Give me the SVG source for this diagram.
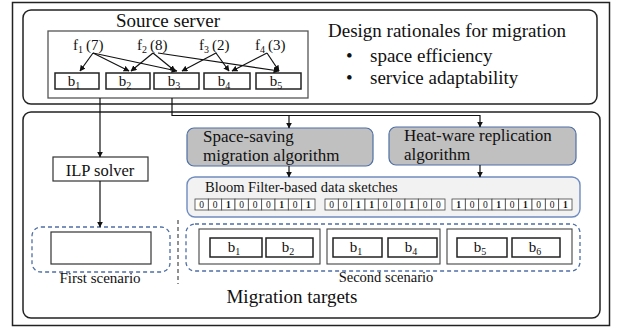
<svg xmlns="http://www.w3.org/2000/svg" width="618" height="331" viewBox="0 0 618 331" font-family="'Liberation Serif', 'DejaVu Serif', 'Times New Roman', serif">
<style>
text{font-family:'Liberation Serif','DejaVu Serif','Times New Roman',serif;fill:#111}
.ln{stroke:#111;stroke-width:1.2;fill:none}
.bx{fill:#fff;stroke:#222;stroke-width:1.5}
.grp{fill:#fff;stroke:#444;stroke-width:1.1}
.gray{fill:#c0c0c0;stroke:#4f6fa5;stroke-width:1.2}
.bloom{fill:#f2f2f2;stroke:#6f8cc0;stroke-width:1.4}
.dash{fill:none;stroke:#4f6fa5;stroke-width:1.3;stroke-dasharray:4 3}
.cell{fill:#fff;stroke:#444;stroke-width:0.8}
.bit{font-size:9.5px;text-anchor:middle}
.b1{font-weight:bold}
.bl{font-size:15px;text-anchor:middle}
.fl{font-size:15px}
</style>
<defs>
<marker id="ah" viewBox="0 0 10 10" refX="9" refY="5" markerWidth="6" markerHeight="6" orient="auto" markerUnits="userSpaceOnUse">
<path d="M0,0 L10,5 L0,10 z" fill="#111"/>
</marker>
</defs>
<rect x="12.5" y="2.5" width="597" height="323" fill="#fff" stroke="#222" stroke-width="1.5"/>

<g id="source">
<rect x="23" y="10" width="574" height="94" rx="8" fill="#fff" stroke="#222" stroke-width="1.5"/>
<text x="168" y="27" font-size="19" text-anchor="middle">Source server</text>
<rect x="48" y="31" width="260" height="67" fill="#fff" stroke="#555" stroke-width="1.3"/>
<text class="fl" x="73" y="50">f<tspan font-size="10" dy="3">1</tspan><tspan dy="-3" dx="3">(7)</tspan></text>
<text class="fl" x="137" y="50">f<tspan font-size="10" dy="3">2</tspan><tspan dy="-3" dx="3">(8)</tspan></text>
<text class="fl" x="199" y="50">f<tspan font-size="10" dy="3">3</tspan><tspan dy="-3" dx="3">(2)</tspan></text>
<text class="fl" x="255" y="50">f<tspan font-size="10" dy="3">4</tspan><tspan dy="-3" dx="3">(3)</tspan></text>
<rect class="bx" x="55" y="73" width="44" height="16"/>
<rect class="bx" x="106" y="73" width="44" height="16"/>
<rect class="bx" x="154" y="73" width="45" height="16"/>
<rect class="bx" x="204" y="73" width="46" height="16"/>
<rect class="bx" x="256" y="73" width="45" height="16"/>
<text class="bl" x="74" y="86">b<tspan font-size="10" dy="3">1</tspan></text>
<text class="bl" x="125" y="86">b<tspan font-size="10" dy="3">2</tspan></text>
<text class="bl" x="174" y="86">b<tspan font-size="10" dy="3">3</tspan></text>
<text class="bl" x="224" y="86">b<tspan font-size="10" dy="3">4</tspan></text>
<text class="bl" x="276" y="86">b<tspan font-size="10" dy="3">5</tspan></text>
</g>

<g id="rationales">
<text x="328" y="37" font-size="19">Design rationales for migration</text>
<text x="346" y="62" font-size="19">•</text>
<text x="370" y="62" font-size="19">space efficiency</text>
<text x="346" y="84" font-size="19">•</text>
<text x="370" y="84" font-size="19">service adaptability</text>
</g>

<g id="targets">
<rect x="23" y="112" width="577" height="206" rx="8" fill="#fff" stroke="#222" stroke-width="1.5"/>
<text x="292" y="303" font-size="19" text-anchor="middle">Migration targets</text>
</g>

<g id="ilp">
<rect x="53" y="157" width="95" height="24" fill="#fff" stroke="#333" stroke-width="1.2"/>
<text x="100" y="176" font-size="16.5" text-anchor="middle">ILP solver</text>
</g>

<g id="space-saving">
<rect class="gray" x="187" y="128" width="186" height="38" rx="7"/>
<text x="203" y="142" font-size="17">Space-saving</text>
<text x="203" y="161" font-size="17">migration algorithm</text>
</g>

<g id="heat-ware">
<rect class="gray" x="389" y="127" width="187" height="38" rx="7"/>
<text x="404" y="141" font-size="17">Heat-ware replication</text>
<text x="404" y="160" font-size="17">algorithm</text>
</g>

<g id="bloom">
<rect class="bloom" x="187" y="177" width="393" height="40" rx="8"/>
<text x="205" y="192" font-size="14.5">Bloom Filter-based data sketches</text>
<g id="bits1">
<rect class="cell" x="195" y="199" width="13.33" height="11"/><rect class="cell" x="208.33" y="199" width="13.33" height="11"/><rect class="cell" x="221.67" y="199" width="13.33" height="11"/><rect class="cell" x="235" y="199" width="13.33" height="11"/><rect class="cell" x="248.33" y="199" width="13.33" height="11"/><rect class="cell" x="261.67" y="199" width="13.33" height="11"/><rect class="cell" x="275" y="199" width="13.33" height="11"/><rect class="cell" x="288.33" y="199" width="13.33" height="11"/><rect class="cell" x="301.67" y="199" width="13.33" height="11"/>
<text class="bit" x="201.7" y="208">0</text><text class="bit" x="215" y="208">0</text><text class="bit b1" x="228.3" y="208">1</text><text class="bit" x="241.7" y="208">0</text><text class="bit" x="255" y="208">0</text><text class="bit" x="268.3" y="208">0</text><text class="bit b1" x="281.7" y="208">1</text><text class="bit" x="295" y="208">0</text><text class="bit b1" x="308.3" y="208">1</text>
</g>
<g id="bits2">
<rect class="cell" x="325" y="199" width="13.33" height="11"/><rect class="cell" x="338.33" y="199" width="13.33" height="11"/><rect class="cell" x="351.67" y="199" width="13.33" height="11"/><rect class="cell" x="365" y="199" width="13.33" height="11"/><rect class="cell" x="378.33" y="199" width="13.33" height="11"/><rect class="cell" x="391.67" y="199" width="13.33" height="11"/><rect class="cell" x="405" y="199" width="13.33" height="11"/><rect class="cell" x="418.33" y="199" width="13.33" height="11"/><rect class="cell" x="431.67" y="199" width="13.33" height="11"/>
<text class="bit" x="331.7" y="208">0</text><text class="bit" x="345" y="208">0</text><text class="bit b1" x="358.3" y="208">1</text><text class="bit b1" x="371.7" y="208">1</text><text class="bit" x="385" y="208">0</text><text class="bit" x="398.3" y="208">0</text><text class="bit b1" x="411.7" y="208">1</text><text class="bit" x="425" y="208">0</text><text class="bit" x="438.3" y="208">0</text>
</g>
<g id="bits3">
<rect class="cell" x="452" y="199" width="13.33" height="11"/><rect class="cell" x="465.33" y="199" width="13.33" height="11"/><rect class="cell" x="478.67" y="199" width="13.33" height="11"/><rect class="cell" x="492" y="199" width="13.33" height="11"/><rect class="cell" x="505.33" y="199" width="13.33" height="11"/><rect class="cell" x="518.67" y="199" width="13.33" height="11"/><rect class="cell" x="532" y="199" width="13.33" height="11"/><rect class="cell" x="545.33" y="199" width="13.33" height="11"/><rect class="cell" x="558.67" y="199" width="13.33" height="11"/>
<text class="bit b1" x="458.7" y="208">1</text><text class="bit" x="472" y="208">0</text><text class="bit" x="485.3" y="208">0</text><text class="bit b1" x="498.7" y="208">1</text><text class="bit" x="512" y="208">0</text><text class="bit b1" x="525.3" y="208">1</text><text class="bit" x="538.7" y="208">0</text><text class="bit" x="552" y="208">0</text><text class="bit b1" x="565.3" y="208">1</text>
</g>
</g>

<g id="first-scenario">
<rect class="dash" x="32" y="227" width="138" height="45" rx="9"/>
<rect x="51" y="232" width="100" height="32" fill="#fff" stroke="#333" stroke-width="1.2"/>
<text x="100" y="283" font-size="15" text-anchor="middle">First scenario</text>
</g>

<line x1="178" y1="220" x2="178" y2="284" stroke="#222" stroke-width="1" stroke-dasharray="4 3"/>

<g id="second-scenario">
<rect class="dash" x="186" y="224" width="394" height="47" rx="9"/>
<rect class="grp" x="199" y="229" width="121" height="35"/>
<rect class="grp" x="327" y="229" width="113" height="35"/>
<rect class="grp" x="447" y="229" width="125" height="35"/>
<rect class="bx" x="210" y="238" width="52" height="19"/>
<rect class="bx" x="266" y="238" width="47" height="19"/>
<rect class="bx" x="333" y="238" width="49" height="19"/>
<rect class="bx" x="388" y="238" width="49" height="19"/>
<rect class="bx" x="457" y="238" width="50" height="19"/>
<rect class="bx" x="512" y="238" width="48" height="19"/>
<text class="bl" x="234" y="252">b<tspan font-size="10" dy="3">1</tspan></text>
<text class="bl" x="288" y="252">b<tspan font-size="10" dy="3">2</tspan></text>
<text class="bl" x="356" y="252">b<tspan font-size="10" dy="3">1</tspan></text>
<text class="bl" x="411" y="252">b<tspan font-size="10" dy="3">4</tspan></text>
<text class="bl" x="480" y="252">b<tspan font-size="10" dy="3">5</tspan></text>
<text class="bl" x="535" y="252">b<tspan font-size="10" dy="3">6</tspan></text>
<text x="386" y="282" font-size="14.5" text-anchor="middle">Second scenario</text>
</g>

<g id="connectors">
<line class="ln" x1="93" y1="53" x2="80" y2="71" marker-end="url(#ah)"/>
<line class="ln" x1="93" y1="53" x2="129" y2="71" marker-end="url(#ah)"/>
<line class="ln" x1="93" y1="53" x2="177" y2="71" marker-end="url(#ah)"/>
<line class="ln" x1="153" y1="53" x2="131" y2="71" marker-end="url(#ah)"/>
<line class="ln" x1="153" y1="53" x2="175" y2="71" marker-end="url(#ah)"/>
<line class="ln" x1="158" y1="53" x2="279" y2="71" marker-end="url(#ah)"/>
<line class="ln" x1="216" y1="53" x2="182" y2="71" marker-end="url(#ah)"/>
<line class="ln" x1="216" y1="53" x2="229" y2="71" marker-end="url(#ah)"/>
<line class="ln" x1="267" y1="53" x2="232" y2="71" marker-end="url(#ah)"/>
<line class="ln" x1="267" y1="53" x2="279" y2="71" marker-end="url(#ah)"/>
<line class="ln" x1="100" y1="98" x2="100" y2="157" marker-end="url(#ah)"/>
<polyline class="ln" points="172,98 172,115.5 480,115.5 480,127" marker-end="url(#ah)"/>
<line class="ln" x1="289" y1="115.5" x2="289" y2="128" marker-end="url(#ah)"/>
<line class="ln" x1="289" y1="166" x2="289" y2="177" marker-end="url(#ah)"/>
<line class="ln" x1="480" y1="165" x2="480" y2="177" marker-end="url(#ah)"/>
<line class="ln" x1="100" y1="181" x2="100" y2="227" marker-end="url(#ah)"/>
</g>
</svg>
